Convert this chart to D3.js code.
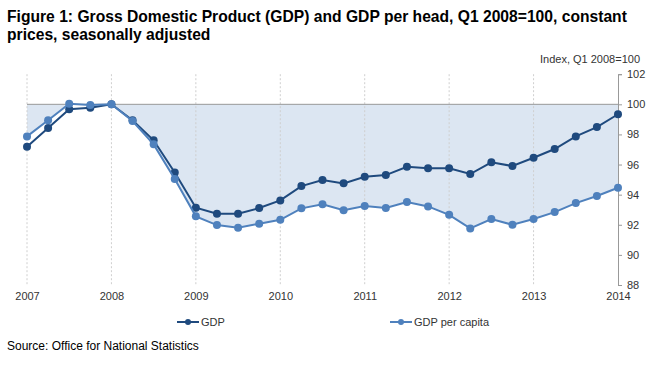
<!DOCTYPE html>
<meta charset="utf-8">
<style>
body { margin: 0; background: #fff; }
svg { font-family: "Liberation Sans", Arial, sans-serif; }
.title { font-size: 15.65px; font-weight: bold; fill: #000; }
.tick text { font-size: 11px; fill: #333; }
</style>
<body>
<div id="chart"></div>
<script src="https://cdn.jsdelivr.net/npm/d3@7"></script>
<script>
// quarters Q1 2007 .. Q1 2014
var quarters = d3.range(29);
var yearLabels = ["2007", "2008", "2009", "2010", "2011", "2012", "2013", "2014"];
var yTicks = [88, 90, 92, 94, 96, 98, 100, 102];

var gdp = [97.18, 98.43, 99.67, 99.77, 100, 98.94, 97.61, 95.47,
           93.13, 92.73, 92.73, 93.11, 93.62, 94.57, 94.97, 94.75,
           95.19, 95.30, 95.85, 95.75, 95.75, 95.37, 96.15, 95.90,
           96.45, 97.03, 97.87, 98.49, 99.34];
var gdpPerCapita = [97.87, 98.94, 100.04, 99.95, 100, 98.89, 97.34, 95.04,
                    92.56, 91.98, 91.80, 92.07, 92.33, 93.09, 93.36, 92.96,
                    93.24, 93.11, 93.51, 93.22, 92.66, 91.76, 92.38, 92.00,
                    92.38, 92.84, 93.44, 93.91, 94.46];

var width = 666, height = 366;

var svg = d3.select("#chart").append("svg")
    .attr("width", width)
    .attr("height", height);

// title
var title = svg.append("text").attr("class", "title");
title.append("tspan").attr("x", 7).attr("y", 22)
  .text("Figure 1: Gross Domestic Product (GDP) and GDP per head, Q1 2008=100, constant");
title.append("tspan").attr("x", 7).attr("y", 40)
  .text("prices, seasonally adjusted");

var x = d3.scaleLinear().domain([0, 28]).range([27, 618]);
var y = d3.scaleLinear().domain([88, 102]).range([285, 74.2]);

// shaded area between 100 and GDP per capita
var area = d3.area()
    .x(function(d, i) { return x(i); })
    .y0(y(100))
    .y1(function(d) { return y(d); });

svg.append("path")
    .datum(gdpPerCapita)
    .attr("fill", "#dce6f2")
    .attr("d", area);

// vertical dashed year lines
svg.append("g").selectAll("line")
  .data(d3.range(0, 28, 4))
  .enter().append("line")
    .attr("x1", function(d) { return x(d); })
    .attr("x2", function(d) { return x(d); })
    .attr("y1", y(102))
    .attr("y2", y(88))
    .attr("stroke", "#cfcfcf")
    .attr("stroke-dasharray", "2,2");

// 100 line
svg.append("line")
    .attr("x1", x(0)).attr("x2", x(28))
    .attr("y1", y(100)).attr("y2", y(100))
    .attr("stroke", "#999")
    .attr("stroke-width", 1);

// right y axis
var yAxis = svg.append("g")
    .attr("transform", "translate(" + x(28) + ",0)")
    .call(d3.axisRight(y).tickValues(yTicks).tickSize(4).tickPadding(5));
yAxis.select(".domain").attr("stroke", "#999");
yAxis.selectAll(".tick line").attr("stroke", "#999");

// x labels
var xAxis = svg.append("g")
    .attr("transform", "translate(0," + y(88) + ")")
    .call(d3.axisBottom(x).tickValues(d3.range(0, 29, 4))
      .tickFormat(function(d, i) { return yearLabels[i]; })
      .tickSize(0).tickPadding(7));
xAxis.select(".domain").remove();

// axis unit
svg.append("text")
    .attr("x", 640).attr("y", 63)
    .attr("text-anchor", "end")
    .style("font-size", "11px")
    .attr("fill", "#333")
    .text("Index, Q1 2008=100");

// lines with markers
var line = d3.line()
    .x(function(d, i) { return x(i); })
    .y(function(d) { return y(d); });

var series = [
  {name: "GDP", values: gdp, color: "#1f4a7e"},
  {name: "GDP per capita", values: gdpPerCapita, color: "#4f81bd"}
];

series.forEach(function(s) {
  svg.append("path")
      .datum(s.values)
      .attr("fill", "none")
      .attr("stroke", s.color)
      .attr("stroke-width", 2)
      .attr("d", line);
  svg.append("g").selectAll("circle")
    .data(s.values)
    .enter().append("circle")
      .attr("cx", function(d, i) { return x(i); })
      .attr("cy", function(d) { return y(d); })
      .attr("r", 4)
      .attr("fill", s.color);
});

// legend
var legendX = [177, 390];
series.forEach(function(s, i) {
  var g = svg.append("g").attr("transform", "translate(" + legendX[i] + ",322)");
  g.append("line").attr("x1", 0).attr("x2", 22).attr("y1", 0).attr("y2", 0)
    .attr("stroke", s.color).attr("stroke-width", 2);
  g.append("circle").attr("cx", 11).attr("cy", 0).attr("r", 3).attr("fill", s.color);
  g.append("text").attr("x", 24).attr("y", 4)
    .style("font-size", "11px").attr("fill", "#333").text(s.name);
});

// source
svg.append("text")
    .attr("x", 7).attr("y", 350)
    .style("font-size", "12px")
    .attr("fill", "#000")
    .text("Source: Office for National Statistics");
</script>
</body>
